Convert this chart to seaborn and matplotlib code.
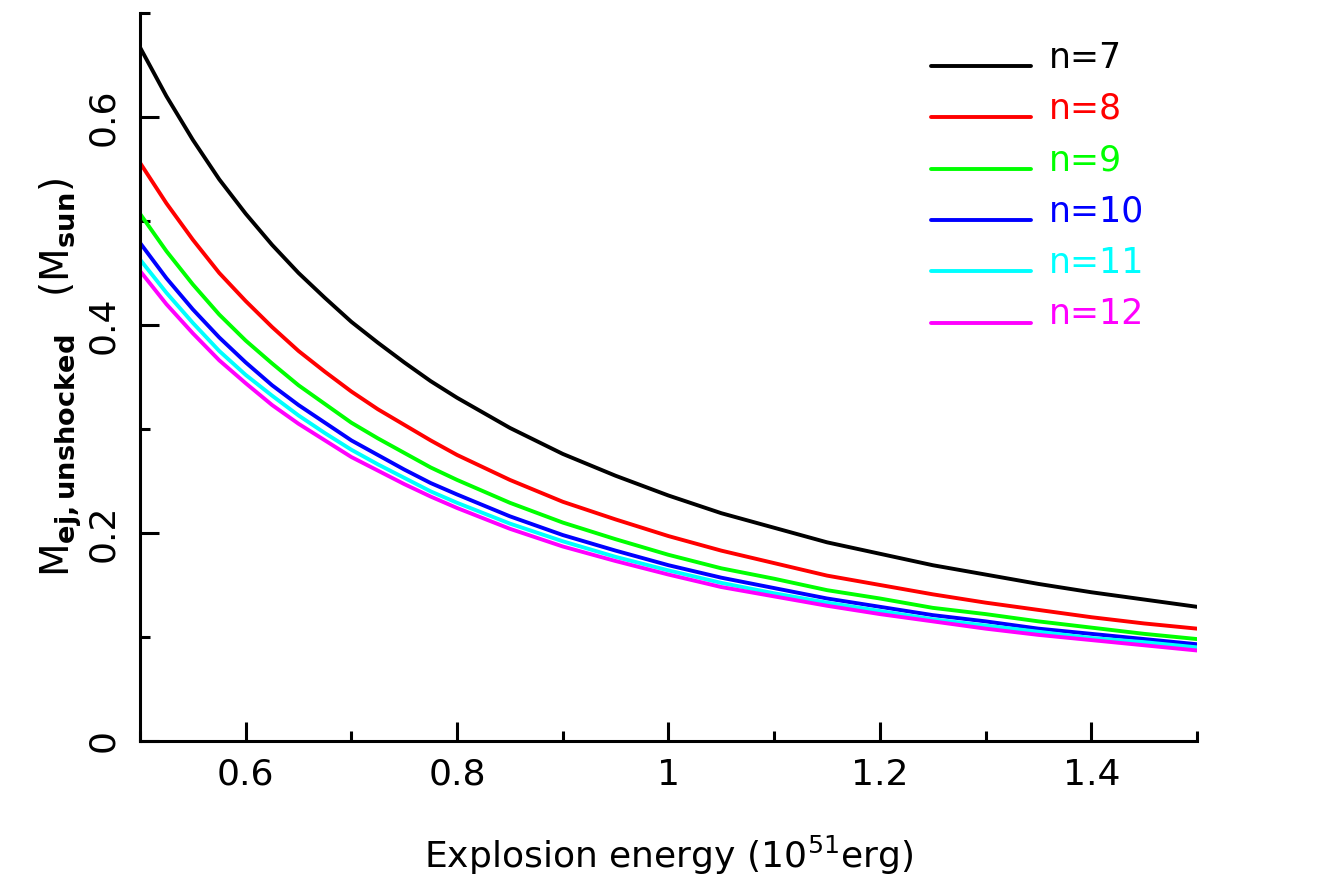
import numpy as np
import pandas as pd
import matplotlib
matplotlib.use("Agg")
import matplotlib.pyplot as plt
from matplotlib.ticker import MultipleLocator, FuncFormatter
from matplotlib.legend_handler import HandlerLine2D
import seaborn as sns

# Explosion energy grid (10^51 erg)
energy = [0.500, 0.525, 0.550, 0.575, 0.600, 0.625, 0.650, 0.675, 0.700, 0.725,
          0.750, 0.775, 0.800, 0.850, 0.900, 0.950, 1.000, 1.050, 1.100, 1.150,
          1.200, 1.250, 1.300, 1.350, 1.400, 1.450, 1.500]

# Unshocked ejecta mass (M_sun) for each density power-law index n
m_n7 = [0.667, 0.620, 0.578, 0.540, 0.507, 0.477, 0.450, 0.426, 0.403, 0.383,
        0.364, 0.346, 0.330, 0.301, 0.276, 0.255, 0.236, 0.219, 0.205, 0.191,
        0.180, 0.169, 0.160, 0.151, 0.143, 0.136, 0.129]
m_n8 = [0.556, 0.517, 0.482, 0.450, 0.423, 0.398, 0.375, 0.355, 0.336, 0.319,
        0.304, 0.289, 0.275, 0.251, 0.230, 0.213, 0.197, 0.183, 0.171, 0.159,
        0.150, 0.141, 0.133, 0.126, 0.119, 0.113, 0.108]
m_n9 = [0.507, 0.471, 0.439, 0.410, 0.385, 0.363, 0.342, 0.324, 0.306, 0.291,
        0.277, 0.263, 0.251, 0.229, 0.210, 0.194, 0.179, 0.166, 0.156, 0.145,
        0.137, 0.128, 0.122, 0.115, 0.109, 0.103, 0.098]
m_n10 = [0.479, 0.445, 0.415, 0.388, 0.364, 0.342, 0.323, 0.306, 0.289, 0.275,
         0.261, 0.248, 0.237, 0.216, 0.198, 0.183, 0.169, 0.157, 0.147, 0.137,
         0.129, 0.121, 0.115, 0.108, 0.103, 0.098, 0.093]
m_n11 = [0.463, 0.431, 0.402, 0.375, 0.352, 0.332, 0.313, 0.296, 0.280, 0.266,
         0.253, 0.240, 0.229, 0.209, 0.192, 0.177, 0.164, 0.152, 0.142, 0.133,
         0.125, 0.117, 0.111, 0.105, 0.099, 0.095, 0.090]
m_n12 = [0.452, 0.420, 0.392, 0.366, 0.344, 0.323, 0.305, 0.289, 0.273, 0.260,
         0.247, 0.235, 0.224, 0.204, 0.187, 0.173, 0.160, 0.148, 0.139, 0.130,
         0.122, 0.115, 0.108, 0.102, 0.097, 0.092, 0.087]

labels = ["n=7", "n=8", "n=9", "n=10", "n=11", "n=12"]
series = [m_n7, m_n8, m_n9, m_n10, m_n11, m_n12]
colors = ["#000000", "#ff0000", "#00ff00", "#0000ff", "#00ffff", "#ff00ff"]

df = pd.concat(
    [pd.DataFrame({"energy": energy, "mass": vals, "model": lab})
     for lab, vals in zip(labels, series)],
    ignore_index=True,
)

sns.set_theme(style="white")
plt.rcParams["font.family"] = ["DejaVu Sans"]
plt.rcParams["mathtext.fontset"] = "dejavusans"

fig = plt.figure(figsize=(13.18, 8.82), dpi=100)
ax = fig.add_axes([0.1062, 0.1599, 0.8020, 0.8254])

sns.lineplot(data=df, x="energy", y="mass", hue="model", hue_order=labels,
             palette=colors, linewidth=2.8, ax=ax, legend=False)

ax.set_xlim(0.5, 1.5)
ax.set_ylim(0, 0.7)

for side in ("top", "right"):
    ax.spines[side].set_visible(False)
for side in ("left", "bottom"):
    ax.spines[side].set_color("black")
    ax.spines[side].set_linewidth(2.2)

ax.xaxis.set_major_locator(MultipleLocator(0.2))
ax.xaxis.set_minor_locator(MultipleLocator(0.1))
ax.yaxis.set_major_locator(MultipleLocator(0.2))
ax.yaxis.set_minor_locator(MultipleLocator(0.1))
fmt = FuncFormatter(lambda v, p: "%g" % round(v, 3))
ax.xaxis.set_major_formatter(fmt)
ax.yaxis.set_major_formatter(fmt)

ax.tick_params(axis="both", which="both", bottom=True, left=True,
               top=False, right=False)
ax.tick_params(axis="both", which="major", direction="in", length=14, width=2.2,
               color="black", labelsize=26, labelcolor="black")
ax.tick_params(axis="both", which="minor", direction="in", length=7, width=2.2,
               color="black")
ax.tick_params(axis="x", which="major", pad=12)
ax.tick_params(axis="y", which="major", pad=14)
for lab in ax.get_yticklabels():
    lab.set_rotation(90)
    lab.set_va("center")

ax.set_xlabel(r"Explosion energy (10$^{51}$erg)", fontsize=26, labelpad=30,
              color="black")
ax.set_ylabel(r"M$_{\mathbf{ej,unshocked}}$   (M$_{\mathbf{sun}}$)", fontsize=28,
              labelpad=2, color="black")


class BaselineLine(HandlerLine2D):
    """Legend key line drawn near the text baseline."""

    def create_artists(self, legend, orig_handle, xdescent, ydescent, width,
                       height, fontsize, trans):
        arts = super().create_artists(legend, orig_handle, xdescent, ydescent,
                                      width, height, fontsize, trans)
        for a in arts:
            a.set_ydata(np.asarray(a.get_ydata()) - 0.3 * fontsize)
        return arts


handles = [plt.Line2D([], [], color=c, linewidth=2.8) for c in colors]
leg = ax.legend(handles, labels, loc="upper left", bbox_to_anchor=(0.748, 0.962),
                frameon=False, fontsize=25, handlelength=2.9, handletextpad=0.5,
                labelspacing=0.50, borderpad=0, borderaxespad=0,
                labelcolor="linecolor",
                handler_map={plt.Line2D: BaselineLine()})

fig.savefig("out.png", dpi=100, facecolor="white")
